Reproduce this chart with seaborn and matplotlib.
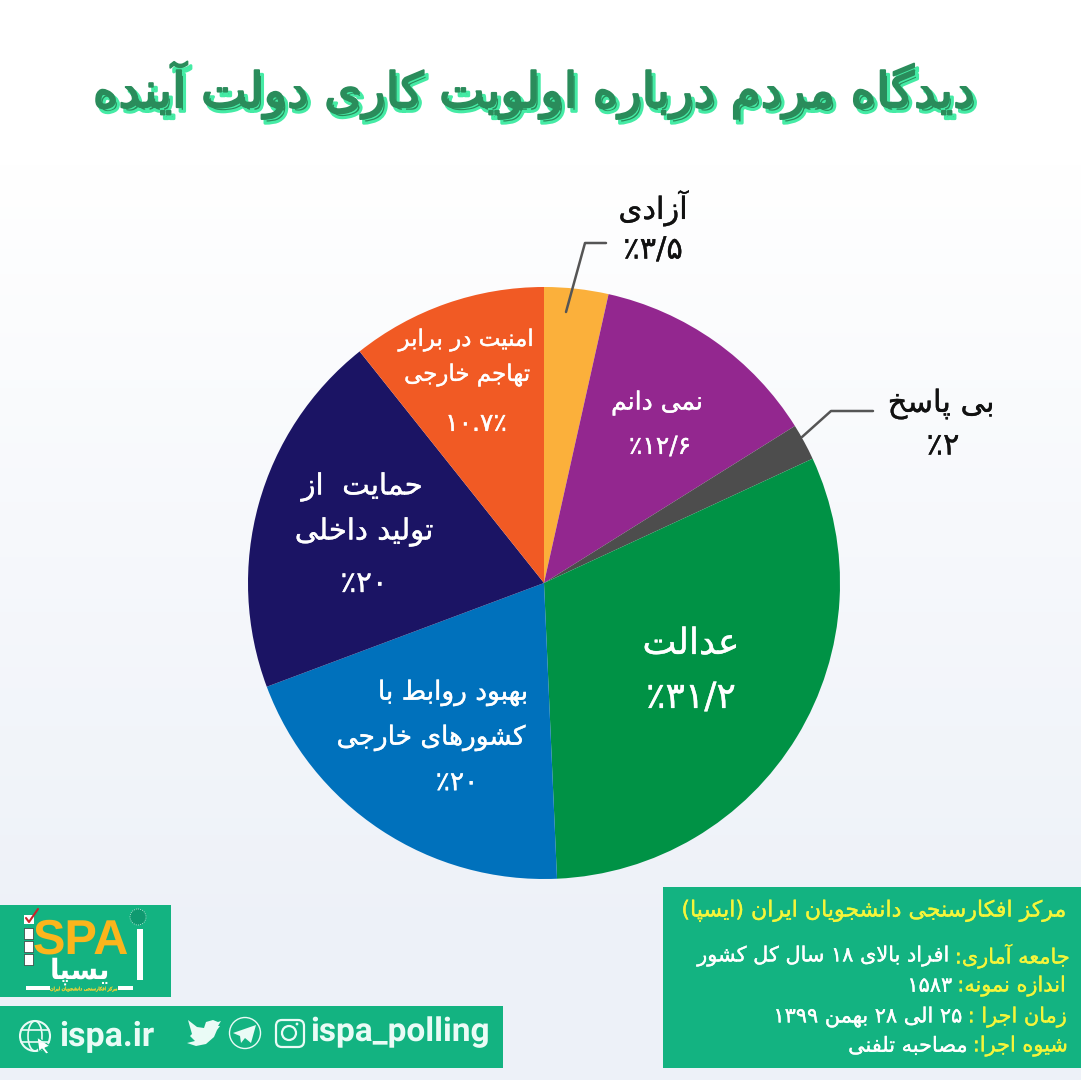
import re
import numpy as np
import seaborn as sns
import matplotlib
matplotlib.use('Agg')
import matplotlib.pyplot as plt
import matplotlib.patheffects as pe
from matplotlib.colors import LinearSegmentedColormap
from matplotlib.patches import Rectangle, Circle, Ellipse, FancyBboxPatch, Polygon

# chart data
title = 'دیدگاه مردم درباره اولویت کاری دولت آینده'
categories = ['آزادی', 'نمی دانم', 'بی پاسخ', 'عدالت', 'بهبود روابط با کشورهای خارجی',
              'حمایت از تولید داخلی', 'امنیت در برابر تهاجم خارجی']
shares = [3.5, 12.6, 2, 31.2, 20, 20, 10.7]
share_labels = ['۳/۵٪', '۱۲/۶٪', '۲٪', '۳۱/۲٪', '۲۰٪', '۲۰٪', '٪۱۰.۷']
slice_colors = ['#FBB03B', '#93278F', '#4D4D4D', '#009245', '#0071BC', '#1B1464', '#F15A24']

box_title = 'مرکز افکارسنجی دانشجویان ایران (ایسپا)'
box_lines = [('جامعه آماری:', 'افراد بالای ۱۸ سال کل کشور'),
             ('اندازه نمونه:', '۱۵۸۳'),
             ('زمان اجرا :', '۲۵ الی ۲۸ بهمن ۱۳۹۹'),
             ('شیوه اجرا:', 'مصاحبه تلفنی')]

# matplotlib has no arabic shaping, so pick the joined glyphs by hand
FORMS = {
    'ا': (0xFE8D, 0xFE8E), 'آ': (0xFE81, 0xFE82), 'د': (0xFEA9, 0xFEAA), 'ذ': (0xFEAB, 0xFEAC),
    'ر': (0xFEAD, 0xFEAE), 'ز': (0xFEAF, 0xFEB0), 'ژ': (0xFB8A, 0xFB8B), 'و': (0xFEED, 0xFEEE),
    'ب': (0xFE8F, 0xFE90, 0xFE91, 0xFE92), 'پ': (0xFB56, 0xFB57, 0xFB58, 0xFB59),
    'ت': (0xFE95, 0xFE96, 0xFE97, 0xFE98), 'ث': (0xFE99, 0xFE9A, 0xFE9B, 0xFE9C),
    'ج': (0xFE9D, 0xFE9E, 0xFE9F, 0xFEA0), 'چ': (0xFB7A, 0xFB7B, 0xFB7C, 0xFB7D),
    'ح': (0xFEA1, 0xFEA2, 0xFEA3, 0xFEA4), 'خ': (0xFEA5, 0xFEA6, 0xFEA7, 0xFEA8),
    'س': (0xFEB1, 0xFEB2, 0xFEB3, 0xFEB4), 'ش': (0xFEB5, 0xFEB6, 0xFEB7, 0xFEB8),
    'ص': (0xFEB9, 0xFEBA, 0xFEBB, 0xFEBC), 'ض': (0xFEBD, 0xFEBE, 0xFEBF, 0xFEC0),
    'ط': (0xFEC1, 0xFEC2, 0xFEC3, 0xFEC4), 'ظ': (0xFEC5, 0xFEC6, 0xFEC7, 0xFEC8),
    'ع': (0xFEC9, 0xFECA, 0xFECB, 0xFECC), 'غ': (0xFECD, 0xFECE, 0xFECF, 0xFED0),
    'ف': (0xFED1, 0xFED2, 0xFED3, 0xFED4), 'ق': (0xFED5, 0xFED6, 0xFED7, 0xFED8),
    'ک': (0xFB8E, 0xFB8F, 0xFB90, 0xFB91), 'گ': (0xFB92, 0xFB93, 0xFB94, 0xFB95),
    'ل': (0xFEDD, 0xFEDE, 0xFEDF, 0xFEE0), 'م': (0xFEE1, 0xFEE2, 0xFEE3, 0xFEE4),
    'ن': (0xFEE5, 0xFEE6, 0xFEE7, 0xFEE8), 'ه': (0xFEE9, 0xFEEA, 0xFEEB, 0xFEEC),
    'ی': (0xFBFC, 0xFBFD, 0xFBFE, 0xFBFF),
}
MIRROR = {'(': ')', ')': '('}


def fa(text):
    """Return text as joined glyphs in visual order."""
    text = text.replace('لا', '\uE000').replace('لآ', '\uE001')
    ligs = {'\uE000': (0xFEFB, 0xFEFC), '\uE001': (0xFEF5, 0xFEF6)}
    out = []
    for i, ch in enumerate(text):
        prev = text[i - 1] if i > 0 else ''
        nxt = text[i + 1] if i < len(text) - 1 else ''
        joins_prev = prev in FORMS and len(FORMS[prev]) == 4
        joins_next = nxt in FORMS or nxt in ligs
        if ch in ligs:
            out.append(chr(ligs[ch][1 if joins_prev else 0]))
        elif ch in FORMS:
            f = FORMS[ch]
            if len(f) == 2:
                out.append(chr(f[1 if joins_prev else 0]))
            elif joins_prev and joins_next:
                out.append(chr(f[3]))
            elif joins_prev:
                out.append(chr(f[1]))
            elif joins_next:
                out.append(chr(f[2]))
            else:
                out.append(chr(f[0]))
        else:
            out.append(MIRROR.get(ch, ch))
    vis = ''.join(reversed(out))
    # digit runs still read left to right
    return re.sub(r'[۰-۹/.]+', lambda m: m.group(0)[::-1], vis)


def heavy(color, width=0.25):
    # a thin outline so the regular weight reads a bit stronger
    return [pe.withStroke(linewidth=width, foreground=color)]


sns.set_theme(style='white')
plt.rcParams['font.family'] = ['DejaVu Sans']
plt.rcParams['text.hinting'] = 'no_hinting'
palette = sns.color_palette(slice_colors)
GREEN = '#13B381'
YELLOW = '#F5F53A'

fig = plt.figure(figsize=(10.81, 10.80), dpi=100)

# background gradient
bg = fig.add_axes([0, 0, 1, 1], zorder=0)
cmap = LinearSegmentedColormap.from_list('bg', [(0, '#FFFFFF'), (0.15, '#FFFFFF'), (0.88, '#EDF1F8'), (1, '#EDF1F8')])
bg.imshow(np.linspace(0, 1, 256).reshape(-1, 1), cmap=cmap, aspect='auto', extent=(0, 1081, 1080, 0))
bg.axis('off')

# the pie, placed by pixel box
cx, cy, r = 544, 583, 296
ax = fig.add_axes([(cx - r) / 1081, 1 - (cy + r) / 1080, 2 * r / 1081, 2 * r / 1080], zorder=1)
ax.pie(shares, colors=palette, startangle=90, counterclock=False, radius=1,
       wedgeprops={'linewidth': 0})
ax.set_xlim(-1, 1)
ax.set_ylim(-1, 1)
ax.patch.set_visible(False)

# everything else in pixel coordinates
top = fig.add_axes([0, 0, 1, 1], zorder=2)
top.set_xlim(0, 1081)
top.set_ylim(1080, 0)
top.axis('off')
top.patch.set_visible(False)


def label(x, y, s, color='white', size=20):
    top.text(x, y, fa(s), color=color, fontsize=size, ha='center', va='center', path_effects=heavy(color))


# title with its mint shadow
TITLE_GREEN = '#2A8C5B'
top.text(534, 90, fa(title), fontsize=35, color=TITLE_GREEN, ha='center', va='center',
         path_effects=[pe.Stroke(linewidth=2.2, foreground='#45EBA5', offset=(2.5, -3)),
                       pe.Stroke(linewidth=1.4, foreground=TITLE_GREEN), pe.Normal()])

# slice labels
label(653, 208, categories[0], '#111111', 22)
label(653, 250, share_labels[0], '#111111', 22)
label(657, 403, categories[1], size=18)
label(660, 447, share_labels[1], size=18)
label(941, 404, categories[2], '#111111', 22)
label(943, 446, share_labels[2], '#111111', 22)
label(691, 644, categories[3], size=26)
label(691, 698, share_labels[3], size=26)
label(453, 693, 'بهبود روابط با', size=19)
label(431, 738, 'کشورهای خارجی', size=19)
label(457, 783, share_labels[4], size=19)
label(362, 487, 'حمایت  از', size=21)
label(364, 532, 'تولید داخلی', size=21)
label(364, 584, share_labels[5], size=21)
label(466, 340, 'امنیت در برابر', size=16.5)
label(467, 375, 'تهاجم خارجی', size=16.5)
label(476, 424, share_labels[6], size=18)

# leader lines
top.plot([566, 585, 606], [312, 243, 243], color='#555555', lw=1.8)
top.plot([802, 831, 873], [437, 411, 411], color='#555555', lw=1.8)

# info box
top.add_patch(Rectangle((663, 887), 418, 181, color=GREEN, lw=0))
top.text(1067, 911, fa(box_title), color=YELLOW, fontsize=15.9, ha='right', va='center',
         path_effects=heavy(YELLOW))
renderer = fig.canvas.get_renderer()
for (head, value), y, right in zip(box_lines, [956, 986, 1017, 1046], [1070, 1066, 1067, 1068]):
    t = top.text(right, y, fa(head), color=YELLOW, fontsize=15, ha='right', va='center',
                 path_effects=heavy(YELLOW))
    w = t.get_window_extent(renderer).width
    top.text(right - w - 5, y, fa(value), color='white', fontsize=15, ha='right', va='center',
             path_effects=heavy('white'))

# logo block
top.add_patch(Rectangle((0, 905), 171, 92, color=GREEN, lw=0))
top.text(81, 941, 'SPA', color='#FBB51C', fontsize=35, fontweight='bold', family='Liberation Sans',
         ha='center', va='center')
for y in [928, 941, 954]:
    top.add_patch(Rectangle((24, y), 9, 11, fc='white', ec='#333333', lw=0.5))
top.add_patch(Rectangle((24, 915), 10, 9, fc='white', lw=0))
top.plot([26, 29, 38], [918, 922, 909], color='#C8242B', lw=1.5)
# the tall bar stands in for the first letter of the word
top.add_patch(Rectangle((137, 929), 6, 51, color='white', lw=0))
top.text(80, 971, fa('یسپا'), color='white', fontsize=20, fontweight='bold', ha='center', va='center')
top.add_patch(Circle((138, 917), 8, fc='#0F9A70', ec='#D8EFE6', lw=0.6, ls=':'))
top.add_patch(Rectangle((26, 986), 24, 4, color='white', lw=0))
top.add_patch(Rectangle((118, 986), 15, 4, color='white', lw=0))
top.text(84, 989, fa('مرکز افکارسنجی دانشجویان ایران'), color='#E2D13B', fontsize=3.4, ha='center', va='center',
         path_effects=heavy('#E2D13B'))

# social banner
top.add_patch(Rectangle((0, 1006), 503, 62, color=GREEN, lw=0))
SOFT = '#EAFBF6'
top.text(59, 1037, 'ispa.ir', color=SOFT, fontsize=24.5, fontweight='bold', family='Roboto', ha='left', va='center')
top.text(310, 1032, 'ispa_polling', color=SOFT, fontsize=24, fontweight='bold', family='Roboto',
         ha='left', va='center')

# globe icon
top.add_patch(Circle((35, 1036), 15, fc='none', ec=SOFT, lw=1.5))
top.add_patch(Ellipse((35, 1036), 14, 30, fc='none', ec=SOFT, lw=1.2))
top.plot([21, 49], [1030, 1030], color=SOFT, lw=1.2)
top.plot([21, 49], [1042, 1042], color=SOFT, lw=1.2)
top.add_patch(Polygon([(37, 1037), (50, 1046), (45, 1048), (49, 1053), (46, 1054), (42, 1049), (39, 1052)],
                      fc='white', ec=GREEN, lw=0.8))

# twitter bird icon
top.add_patch(Polygon([(187, 1043), (195, 1041), (190, 1036), (192, 1034), (188, 1020), (197, 1027), (204, 1028),
                       (206, 1022), (213, 1020), (218, 1022), (221, 1021), (218, 1026), (220, 1026), (217, 1030),
                       (214, 1037), (206, 1044), (196, 1046)], fc=SOFT, lw=0))

# telegram icon
top.add_patch(Circle((245, 1033), 15.5, fc='none', ec=SOFT, lw=1))
top.add_patch(Polygon([(233, 1033), (256, 1025), (251, 1043), (245, 1038), (241, 1043), (240, 1036)], fc=SOFT, lw=0))

# instagram icon
top.add_patch(FancyBboxPatch((279, 1023), 22, 21, boxstyle='round,pad=3,rounding_size=6', fc='none', ec=SOFT, lw=1.6))
top.add_patch(Circle((289, 1033), 7, fc='none', ec=SOFT, lw=1.6))
top.add_patch(Circle((297, 1024), 1.4, fc=SOFT, lw=0))

fig.savefig('out.png', dpi=100)
